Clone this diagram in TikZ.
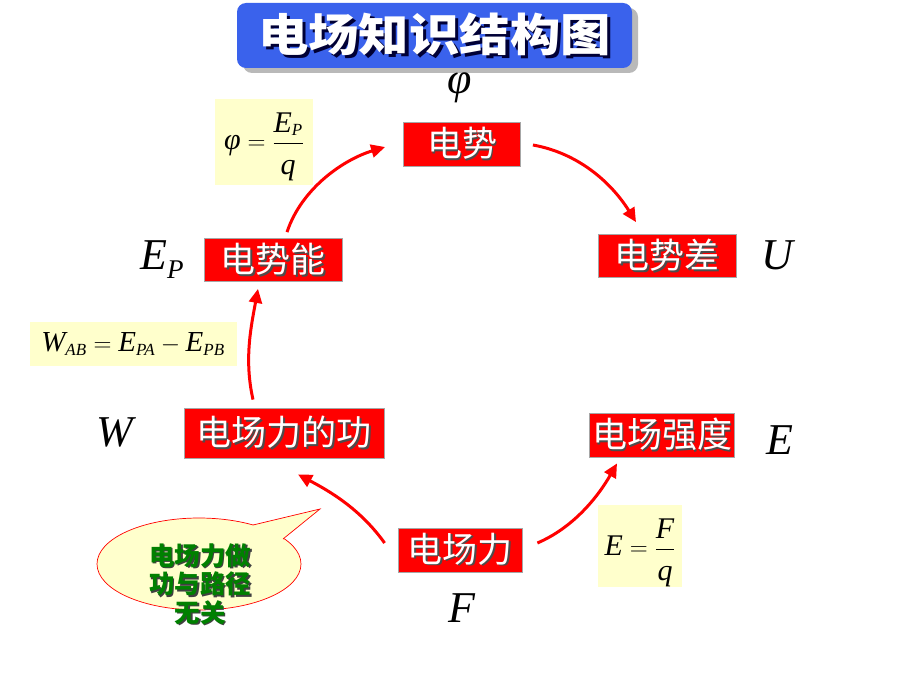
\documentclass[tikz,border=0pt]{standalone}
\usepackage{fontspec}
\setmainfont{Liberation Serif}
\newfontfamily\cjk{Noto Sans CJK SC}
\usetikzlibrary{arrows.meta,shapes.geometric,calc}
\definecolor{fyellow}{RGB}{255,255,204}
\definecolor{tblue}{RGB}{58,98,236}
\definecolor{bgreen}{RGB}{0,128,0}
\newcommand{\shtxt}[3][2pt]{\makebox[0pt][l]{\hspace{#1}\raisebox{-#1}{\textcolor{#3}{#2}}}#2}
\newcommand{\sbs}[1]{\mbox{\fontsize{17}{17}\selectfont\itshape #1}}
\tikzset{
  redbox/.style={fill=red, draw=gray!70, line width=0.8pt, text=white, inner sep=0pt,
    font=\cjk\fontsize{35}{35}\selectfont},
  fbox/.style={fill=fyellow, inner sep=0pt},
  lab/.style={font=\fontsize{44}{44}\selectfont\itshape, inner sep=0pt},
  ftxt/.style={font=\fontsize{30}{30}\selectfont, inner sep=0pt},
  arr/.style={red, line width=3pt, -{Triangle[length=14pt,width=13pt]}},
}
\begin{document}
\begin{tikzpicture}[x=1pt,y=-1pt]
\useasboundingbox[fill=white] (0,0) rectangle (920,690);
% title
\node[fill=gray!55, rounded corners=9pt, minimum width=395pt, minimum height=65pt] (tsh) at (440.5,40.5) {};
\node[fill=tblue, rounded corners=9pt, minimum width=395pt, minimum height=65pt,
  text=white, font=\cjk\bfseries\fontsize{45}{45}\selectfont] (title) at (434.5,35.5)
  {\scalebox{1.12}[1]{\shtxt[3pt]{电场知识结构图}{black!65!blue!60!black}}};
% red boxes
\node[redbox, minimum width=117pt, minimum height=44pt] (ds) at (462,144) {\shtxt[1.5pt]{电势}{black!70}};
\node[redbox, minimum width=138pt, minimum height=43pt] (dsc) at (667,256) {\shtxt[1.5pt]{电势差}{black!70}};
\node[redbox, minimum width=138pt, minimum height=43pt] (dsn) at (273,260) {\shtxt[1.5pt]{电势能}{black!70}};
\node[redbox, minimum width=200pt, minimum height=50pt] (gong) at (284,433) {\shtxt[1.5pt]{电场力的功}{black!70}};
\node[redbox, minimum width=145pt, minimum height=44pt] (qd) at (662,435) {\shtxt[1.5pt]{电场强度}{black!70}};
\node[redbox, minimum width=124pt, minimum height=44pt] (dcl) at (460,550) {\shtxt[1.5pt]{电场力}{black!70}};
% math labels
\node[lab] (lphi) at (460,88) {φ};
\node[lab] (lep) at (162,260) {E\raisebox{-9pt}{\fontsize{27}{27}\selectfont P}};
\node[lab] (lu) at (777,255) {U};
\node[lab] (lw) at (115,432) {W};
\node[lab] (le) at (780,440) {E};
\node[lab] (lf) at (462,608) {F};
% formula boxes
\node[fbox, minimum width=98pt, minimum height=85pt] (f1) at (264,142) {};
\node[ftxt, anchor=base] (f1t) at ([yshift=-7pt]f1.center) {$\mbox{\itshape φ} = \displaystyle\frac{\mbox{\itshape E}_{\sbs{P}}}{\mbox{\raisebox{-8pt}{\itshape q}}}$};
\node[fbox, minimum width=207pt, minimum height=44pt] (f2) at (133,344) {};
\node[ftxt, font=\fontsize{29}{29}\selectfont] (f2t) at (f2.center) {$\mbox{\itshape W}_{\sbs{AB}} = \mbox{\itshape E}_{\sbs{PA}} - \mbox{\itshape E}_{\sbs{PB}}$};
\node[fbox, minimum width=84pt, minimum height=82pt] (f3) at (640,546) {};
\node[ftxt, anchor=base] (f3t) at ([yshift=-9pt]f3.center) {$\mbox{\itshape E} = \displaystyle\frac{\mbox{\itshape F}}{\mbox{\raisebox{-8pt}{\itshape q}}}$};
% arrows
\draw[arr] ([xshift=14pt,yshift=6pt]dsn.north) .. controls +(15,-45) and +(-40,12) .. ([xshift=-18pt,yshift=-3pt]ds.west);
\draw[arr] ([xshift=12pt,yshift=-1pt]ds.east) .. controls +(45,8) and +(-25,-40) .. ([xshift=-31pt,yshift=12pt]dsc.north);
\draw[arr] ([xshift=-31pt,yshift=8pt]gong.north) .. controls +(-9,-40) and +(-7,38) .. ([xshift=-15pt,yshift=-7pt]dsn.south);
\draw[arr] ([xshift=-13pt,yshift=7pt]dcl.west) .. controls +(-25,-35) and +(30,16) .. ([xshift=14pt,yshift=-16pt]gong.south);
\draw[arr] ([xshift=15pt,yshift=7pt]dcl.east) .. controls +(35,-15) and +(-20,35) .. ([xshift=-45pt,yshift=-6pt]qd.south);
% speech bubble
\node[ellipse, draw=red, fill=fyellow, line width=0.7pt, minimum width=204pt, minimum height=92pt, inner sep=0pt] (bub) at (199,564) {};
\coordinate (tip) at (320,509);
\fill[fyellow] (253,525) -- (tip) -- (283,539) -- (262,548) -- cycle;
\draw[red, line width=0.7pt] (253,525) -- (tip) -- (283,539);
\node[align=center, text=bgreen, inner sep=0pt, font=\cjk\bfseries\fontsize{25.5}{28.5}\selectfont] (btxt) at (200,585)
  {\shtxt[1.5pt]{电场力做}{black!75}\\ \shtxt[1.5pt]{功与路径}{black!75}\\ \shtxt[1.5pt]{无关}{black!75}};
\end{tikzpicture}
\end{document}
